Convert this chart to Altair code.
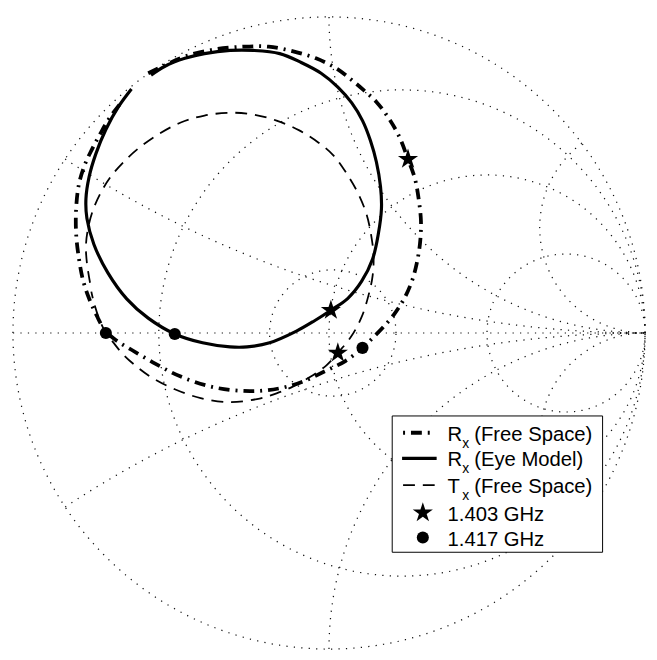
import altair as alt
import numpy as np
import pandas as pd

# ---------------- Smith chart grid values ----------------
R_CIRCLES = [0.3, 1.0, 3.0]                 # constant resistance circles
X_ARCS = [0.3, 1.0, 3.0, -0.3, -1.0, -3.0]  # constant reactance arcs
GAMMA_CIRCLES = [0.2]                       # constant |Gamma| circle

# ---------------- Data (reflection coefficient) ----------------
# Rx (Eye Model) - solid
eye_u = [-0.563, -0.519, -0.456, -0.394, -0.313, -0.238, -0.156, -0.088, -0.025, 0.028,
         0.072, 0.106, 0.131, 0.150, 0.163, 0.166, 0.156, 0.138, 0.103, 0.059,
         0.006, -0.047, -0.103, -0.188, -0.259, -0.313, -0.400, -0.488, -0.572, -0.640,
         -0.700, -0.744, -0.766, -0.769, -0.759, -0.738, -0.706, -0.666, -0.625]
eye_v = [0.816, 0.844, 0.869, 0.884, 0.894, 0.894, 0.884, 0.856, 0.822, 0.778,
         0.728, 0.672, 0.609, 0.541, 0.463, 0.394, 0.313, 0.234, 0.163, 0.109,
         0.072, 0.038, 0.006, -0.031, -0.044, -0.044, -0.031, -0.003, 0.047, 0.108,
         0.191, 0.281, 0.363, 0.425, 0.494, 0.566, 0.644, 0.716, 0.772]

# Rx (Free Space) - dash-dot
rxf_u = [-0.572, -0.519, -0.456, -0.363, -0.269, -0.191, -0.113, -0.041, 0.022, 0.069,
         0.109, 0.150, 0.188, 0.222, 0.250, 0.272, 0.284, 0.291, 0.288, 0.278,
         0.263, 0.238, 0.206, 0.172, 0.138, 0.106, 0.053, -0.009, -0.081, -0.156,
         -0.250, -0.363, -0.469, -0.550, -0.625, -0.675, -0.709, -0.734, -0.759, -0.778,
         -0.791, -0.800, -0.800, -0.791, -0.772, -0.750, -0.725, -0.694, -0.656]
rxf_v = [0.822, 0.847, 0.875, 0.897, 0.906, 0.906, 0.891, 0.869, 0.838, 0.803,
         0.769, 0.731, 0.681, 0.622, 0.550, 0.488, 0.422, 0.353, 0.284, 0.222,
         0.166, 0.109, 0.059, 0.019, -0.016, -0.047, -0.088, -0.119, -0.153, -0.175,
         -0.184, -0.172, -0.138, -0.097, -0.053, -0.022, 0.009, 0.053, 0.109, 0.166,
         0.234, 0.313, 0.394, 0.472, 0.534, 0.581, 0.628, 0.681, 0.731]

# Tx (Free Space) - dashed
txf_u = [-0.756, -0.766, -0.769, -0.763, -0.747, -0.722, -0.691, -0.650, -0.603, -0.541,
         -0.469, -0.394, -0.313, -0.238, -0.166, -0.094, -0.034, 0.013, 0.053, 0.091,
         0.119, 0.134, 0.141, 0.138, 0.125, 0.103, 0.069, 0.028, -0.009, -0.063,
         -0.113, -0.166, -0.228, -0.313, -0.406, -0.488, -0.556, -0.609, -0.653, -0.684,
         -0.706, -0.728, -0.744, -0.752]
txf_v = [0.159, 0.222, 0.275, 0.328, 0.388, 0.444, 0.494, 0.541, 0.584, 0.628,
         0.666, 0.688, 0.697, 0.691, 0.672, 0.641, 0.603, 0.563, 0.509, 0.444,
         0.375, 0.306, 0.244, 0.181, 0.119, 0.050, -0.013, -0.063, -0.103, -0.141,
         -0.169, -0.191, -0.209, -0.219, -0.206, -0.178, -0.144, -0.106, -0.066, -0.028,
         0.000, 0.047, 0.097, 0.131]

# markers: 1.403 GHz (star) and 1.417 GHz (circle) on each curve
star_u = [0.006, 0.250, 0.028]
star_v = [0.072, 0.550, -0.063]
circ_u = [-0.488, 0.106, -0.706]
circ_v = [-0.003, -0.047, 0.000]

SERIES = ["Rx (Free Space)", "Rx (Eye Model)", "Tx (Free Space)"]
LEG_MAIN = ["R", "R", "T"]
LEG_REST = ["(Free Space)", "(Eye Model)", "(Free Space)"]
LEG_MARK = ["1.403 GHz", "1.417 GHz"]

# ---------------- layout ----------------
W = H = 649
PXU = 320.0
xa = -325.0 / PXU
xs = alt.Scale(domain=[xa, xa + W / PXU], nice=False, zero=False)
ys = alt.Scale(domain=[325.0 / PXU - H / PXU, 325.0 / PXU], nice=False, zero=False)
FONT = "Liberation Sans"
STAR = ("M0,-1L0.2245,-0.309L0.9511,-0.309L0.3633,0.118L0.5878,0.809L0,0.382"
        "L-0.5878,0.809L-0.3633,0.118L-0.9511,-0.309L-0.2245,-0.309Z")

# ---------------- grid ----------------
rows = []
gid = 0
t = np.linspace(0, 2 * np.pi, 721)
for k, tt in enumerate(t):
    rows.append((gid, k, np.cos(tt), np.sin(tt)))
gid += 1
rows += [(gid, 0, -1.0, 0.0), (gid, 1, 1.0, 0.0)]
gid += 1
for r in R_CIRCLES:
    c, rad = r / (1 + r), 1 / (1 + r)
    for k, tt in enumerate(t):
        rows.append((gid, k, c + rad * np.cos(tt), rad * np.sin(tt)))
    gid += 1
rr = np.concatenate([[0.0], np.logspace(-3, 3.5, 800)])
for x in X_ARCS:
    g = (rr + 1j * x - 1) / (rr + 1j * x + 1)
    for k, gg in enumerate(g):
        rows.append((gid, k, gg.real, gg.imag))
    gid += 1
for m in GAMMA_CIRCLES:
    for k, tt in enumerate(t):
        rows.append((gid, k, 0.012 + m * np.cos(tt), m * np.sin(tt)))
    gid += 1
grid = pd.DataFrame(rows, columns=["gid", "k", "u", "v"])

X = alt.X("u:Q", scale=xs, axis=None)
Y = alt.Y("v:Q", scale=ys, axis=None)

grid_layer = alt.Chart(grid).mark_line(
    color="#111", strokeWidth=1.25, strokeDash=[1.25, 6.3], strokeCap="butt"
).encode(x=X, y=Y, detail="gid:N", order="k:Q")


def curve(u, v, **kw):
    df = pd.DataFrame({"u": u, "v": v, "k": range(len(u))})
    return alt.Chart(df).mark_line(color="black", interpolate="catmull-rom", **kw).encode(
        x=X, y=Y, order="k:Q")


c_rxf = curve(rxf_u, rxf_v, strokeWidth=3.8, strokeDash=[11, 6, 2, 6])
c_eye = curve(eye_u, eye_v, strokeWidth=3.2)
c_txf = curve(txf_u, txf_v, strokeWidth=1.8, strokeDash=[12, 8])

stars = alt.Chart(pd.DataFrame({"u": star_u, "v": star_v})).mark_point(
    shape=STAR, filled=True, color="black", size=460, opacity=1
).encode(x=X, y=Y)
circs = alt.Chart(pd.DataFrame({"u": circ_u, "v": circ_v})).mark_point(
    shape="circle", filled=True, color="black", size=150, opacity=1
).encode(x=X, y=Y)

# ---------------- legend (pixel layout) ----------------
one = pd.DataFrame({"a": [0]})
LX0, LY0, LX1, LY1 = 389, 409, 602, 547
box = alt.Chart(one).mark_rect(fill="white", stroke="black", strokeWidth=1).encode(
    x=alt.value(LX0), x2=alt.value(LX1), y=alt.value(LY0), y2=alt.value(LY1))
row_y = [426, 452, 479, 506, 532]
base_y = [434, 460, 487, 515, 541]
leg_lines = [
    alt.Chart(one).mark_rule(color="black", strokeWidth=3.8, strokeDash=[2, 6, 11, 6]).encode(
        x=alt.value(400), x2=alt.value(428), y=alt.value(row_y[0])),
    alt.Chart(one).mark_rule(color="black", strokeWidth=3.2).encode(
        x=alt.value(399), x2=alt.value(434), y=alt.value(row_y[1])),
    alt.Chart(one).mark_rule(color="black", strokeWidth=1.8, strokeDash=[12, 8]).encode(
        x=alt.value(400), x2=alt.value(434), y=alt.value(row_y[2])),
]
leg_star = alt.Chart(one).mark_point(shape=STAR, filled=True, color="black", size=460, opacity=1).encode(
    x=alt.value(420), y=alt.value(row_y[3] + 1))
leg_circ = alt.Chart(one).mark_point(shape="circle", filled=True, color="black", size=150, opacity=1).encode(
    x=alt.value(420), y=alt.value(row_y[4]))

txt_rows = []
for i in range(3):
    txt_rows.append({"t": LEG_MAIN[i], "px": 445, "py": base_y[i], "s": 20.5})
    txt_rows.append({"t": "x", "px": 460, "py": base_y[i] + 7, "s": 14})
    txt_rows.append({"t": LEG_REST[i], "px": 472, "py": base_y[i], "s": 20.5})
for j in range(2):
    txt_rows.append({"t": LEG_MARK[j], "px": 445, "py": base_y[3 + j], "s": 20.5})
tdf = pd.DataFrame(txt_rows)
leg_text = alt.Chart(tdf).mark_text(
    align="left", baseline="alphabetic", font=FONT, color="black"
).encode(
    x=alt.X("px:Q", scale=None, axis=None),
    y=alt.Y("py:Q", scale=None, axis=None),
    text="t:N",
    size=alt.Size("s:Q", scale=None, legend=None),
)

chart = alt.layer(
    grid_layer, c_txf, c_rxf, c_eye, stars, circs,
    box, *leg_lines, leg_star, leg_circ, leg_text
).properties(
    width=W, height=H, padding=0, background="white",
    autosize=alt.AutoSizeParams(type="none"),
).configure_view(stroke=None, strokeWidth=0)

chart.save("out.html", embed_options={"renderer": "svg", "actions": False})
